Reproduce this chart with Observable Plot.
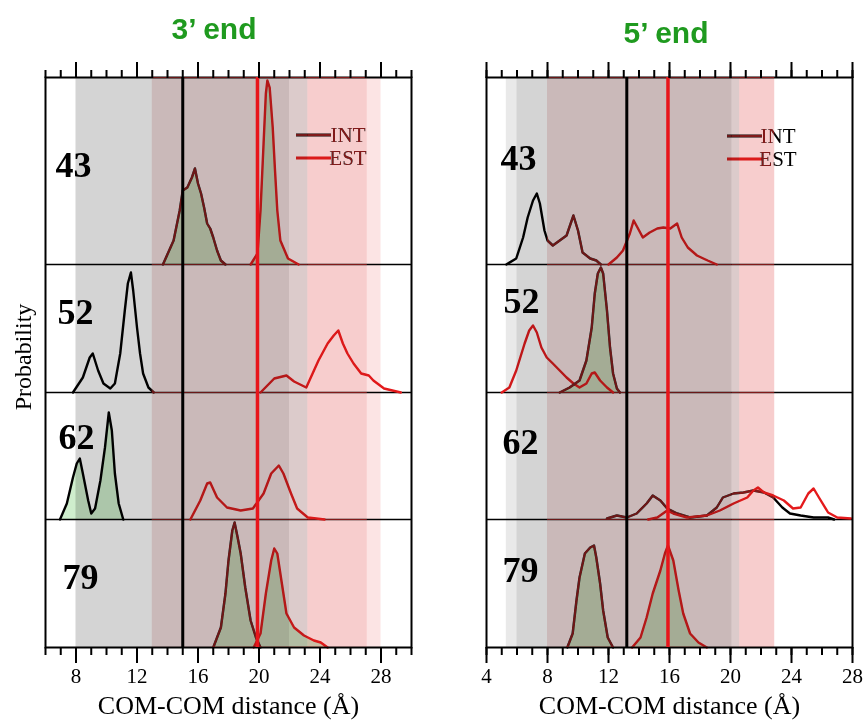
<!DOCTYPE html>
<html><head><meta charset="utf-8">
<script src="https://cdn.jsdelivr.net/npm/d3@7"></script>
<script src="https://cdn.jsdelivr.net/npm/@observablehq/plot@0.6"></script>
<style>
body{margin:0;background:#fff;}
#wrap{position:relative;width:867px;height:726px;overflow:hidden;background:#fff;}
.panel{position:absolute;top:0;}
.title{position:absolute;font-family:"Liberation Sans",Arial,sans-serif;font-weight:bold;font-size:30px;color:#1f9a1f;transform:translate(-50%,-50%);white-space:nowrap;}
.ylab{position:absolute;font-family:"Liberation Serif",serif;font-size:24px;left:23px;top:357px;transform:translate(-50%,-50%) rotate(-90deg);white-space:nowrap;}
</style></head><body>
<div id="wrap">
<div id="p3" class="panel" style="left:0px"></div>
<div id="p5" class="panel" style="left:440px"></div>
<div class="title" style="left:214px;top:29px">3’ end</div>
<div class="title" style="left:666px;top:33px">5’ end</div>
<div class="ylab">Probability</div>
</div>
<script>
// ---------- data ----------
const rowNames = ["43", "52", "62", "79"];
const legendNames = ["INT", "EST"];
const axisTitle = "COM-COM distance (Å)";

// 3' end : [distance (Å), probability (arb. units)]
const end3_43_INT = [[13.7,0],[14.4,24],[14.8,54],[15.0,74],[15.3,77],[15.6,87],[15.8,96],[16.0,81],[16.2,71],[16.4,57],[16.6,41],[16.8,36],[17.0,27],[17.25,14],[17.5,4],[17.8,0]];
const end3_43_EST = [[19.45,0],[19.9,11],[20.1,54],[20.3,121],[20.45,171],[20.55,184],[20.7,177],[20.9,137],[21.05,94],[21.2,54],[21.4,24],[21.9,6],[22.6,0]];
const end3_52_INT = [[7.8,0],[8.45,15],[8.9,35],[9.1,39],[9.45,22],[9.8,9],[10.25,4],[10.55,9],[10.9,39],[11.2,82],[11.4,109],[11.6,120],[11.75,102],[12.0,65],[12.2,39],[12.4,19],[12.75,5],[13.1,0]];
const end3_52_EST = [[20.1,0],[21.0,14],[21.8,17],[22.3,11],[23.1,5],[23.9,32],[24.5,49],[24.9,57],[25.2,62],[25.5,49],[25.8,39],[26.2,29],[26.7,19],[27.2,17],[27.5,12],[28.2,4],[29.3,0]];
const end3_62_INT = [[6.95,0],[7.4,16],[7.8,42],[8.05,56],[8.25,61],[8.45,46],[8.8,19],[9.0,6],[9.25,11],[9.6,39],[9.9,72],[10.15,107],[10.35,89],[10.55,46],[10.8,16],[11.1,0]];
const end3_62_EST = [[15.5,0],[16.15,19],[16.6,36],[16.8,37],[17.25,22],[17.9,12],[18.8,9],[19.6,11],[20.3,26],[20.8,46],[21.3,54],[21.6,46],[22.1,26],[22.5,11],[23.2,2],[24.3,0]];
const end3_79_INT = [[17.0,0],[17.5,20],[17.8,54],[18.0,87],[18.25,117],[18.4,125],[18.6,110],[18.8,94],[19.1,60],[19.45,27],[19.8,10],[20.1,0]];
const end3_79_EST = [[19.65,0],[20.1,14],[20.45,54],[20.8,87],[21.0,99],[21.2,94],[21.5,64],[21.8,34],[22.3,20],[22.95,12],[23.6,7],[24.05,5],[24.5,0]];

// 5' end
const end5_43_INT = [[5.3,0],[5.95,6],[6.4,27],[6.7,47],[7.05,64],[7.3,71],[7.5,61],[7.8,34],[8.0,24],[8.35,19],[8.8,24],[9.25,29],[9.7,49],[10.0,34],[10.3,12],[10.8,6],[11.2,4],[11.5,0]];
const end5_43_EST = [[12.0,0],[12.55,7],[12.95,14],[13.4,31],[13.65,44],[13.9,37],[14.25,27],[14.7,32],[15.2,36],[15.6,37],[16.05,36],[16.5,41],[16.8,27],[17.2,17],[17.8,9],[18.5,4],[19.1,0]];
const end5_52_INT = [[8.8,0],[9.45,5],[10.1,12],[10.55,32],[10.9,65],[11.1,99],[11.3,119],[11.5,125],[11.65,119],[11.9,82],[12.1,45],[12.3,19],[12.55,4],[12.75,0]];
const end5_52_EST = [[5.0,0],[5.5,5],[5.95,22],[6.5,49],[6.8,62],[7.05,67],[7.3,60],[7.6,45],[7.95,35],[8.35,29],[8.8,22],[9.25,15],[9.7,9],[10.1,5],[10.55,9],[10.9,19],[11.1,20],[11.45,12],[11.9,5],[12.3,0]];
const end5_62_INT = [[11.9,1],[12.55,4],[13.2,2],[13.85,6],[14.5,16],[14.9,24],[15.4,19],[15.85,11],[16.5,6],[17.35,2],[18.45,4],[19.1,12],[19.5,22],[20.2,26],[20.85,27],[21.5,29],[22.2,27],[22.8,22],[23.4,12],[23.9,6],[24.6,4],[25.45,2],[26.4,2],[26.8,0]];
const end5_62_EST = [[14.6,0],[15.2,2],[15.85,9],[16.25,6],[17.15,2],[18.45,4],[19.3,9],[20.2,16],[21.1,22],[21.5,29],[21.8,32],[22.2,27],[22.8,24],[23.5,19],[24.1,11],[24.6,12],[25.1,26],[25.45,31],[25.8,22],[26.4,7],[27.0,2],[27.9,1]];
const end5_79_INT = [[9.3,0],[9.65,14],[9.9,47],[10.1,70],[10.45,94],[10.8,100],[11.05,102],[11.2,90],[11.45,64],[11.65,37],[11.95,10],[12.3,0]];
const end5_79_EST = [[13.55,0],[14.1,10],[14.5,30],[14.9,54],[15.4,77],[15.7,94],[15.9,102],[16.25,87],[16.6,57],[16.9,34],[17.35,14],[17.9,5],[18.45,0]];

// shaded ranges [from, to, kind]
const bands3 = [[8,13,"gray"],[13,22,"mauve"],[22,23.2,"lightmauve"],[23.2,27.1,"pink"],[27.1,28,"lightpink"]];
const bands5 = [[5.3,6,"lightgray"],[6,8,"gray"],[8,20.1,"mauve"],[20.1,20.6,"lightmauve"],[20.6,22.9,"pink"]];

// reference distances
const ref3 = {INT: 15, EST: 19.9};
const ref5 = {INT: 13.2, EST: 15.9};

// axis ticks
const majorTicks3 = [8, 12, 16, 20, 24, 28];
const majorTicks5 = [4, 8, 12, 16, 20, 24, 28];
const minorTicks3 = d3.range(6, 31);
const minorTicks5 = d3.range(4, 29);

// ---------- styling / layout ----------
const bandColor = {gray:"#d4d4d4", lightgray:"#e9e9e9", mauve:"#cab9b9", lightmauve:"#dccbcb", pink:"#f7cdcd", lightpink:"#fce4e4"};
const tinted = new Set(["mauve","lightmauve","pink"]);
const lineColor = {INT: "black", EST: "#e41a1c"};
const refColor = {INT: "black", EST: "#e8151b"};
const greenFill = "#cfeecd";
const rowBase = {"43": 383, "52": 255, "62": 128, "79": 0};
const TOP = 570;

const series3 = [
  {row:"43", kind:"INT", data:end3_43_INT, fill:true},
  {row:"43", kind:"EST", data:end3_43_EST, fill:true},
  {row:"52", kind:"INT", data:end3_52_INT, fill:false},
  {row:"52", kind:"EST", data:end3_52_EST, fill:false},
  {row:"62", kind:"INT", data:end3_62_INT, fill:true},
  {row:"62", kind:"EST", data:end3_62_EST, fill:false},
  {row:"79", kind:"INT", data:end3_79_INT, fill:true},
  {row:"79", kind:"EST", data:end3_79_EST, fill:true}
];
const series5 = [
  {row:"43", kind:"INT", data:end5_43_INT, fill:false},
  {row:"43", kind:"EST", data:end5_43_EST, fill:false},
  {row:"52", kind:"EST", data:end5_52_EST, fill:false},
  {row:"52", kind:"INT", data:end5_52_INT, fill:true},
  {row:"62", kind:"INT", data:end5_62_INT, fill:false},
  {row:"62", kind:"EST", data:end5_62_EST, fill:false},
  {row:"79", kind:"INT", data:end5_79_INT, fill:true},
  {row:"79", kind:"EST", data:end5_79_EST, fill:true}
];

function makePanel(cfg) {
  const {domain, bands, ref, series, major, minor, width, marginLeft, marginRight, labelPos, legendPos} = cfg;
  const fills = series.filter(s => s.fill).map(s =>
    Plot.area(s.data, {x1: d => d[0], y1: () => rowBase[s.row], y2: d => rowBase[s.row] + d[1], fill: greenFill}));
  const lines = series.map(s =>
    Plot.line(s.data, {x: d => d[0], y: d => rowBase[s.row] + d[1], stroke: lineColor[s.kind], strokeWidth: 2.4}));
  const labels = rowNames.map((r, i) =>
    Plot.text([r], {frameAnchor: "left", y: () => rowBase[r] + labelPos[i][1], dx: labelPos[i][0],
      textAnchor: "start", fontSize: 36, fontWeight: "bold", fill: "black"}));
  const legend = (index, scales, values, dim) => {
    const g = d3.create("svg:g");
    legendNames.forEach((name, i) => {
      const y = legendPos.y[i];
      g.append("line").attr("x1", legendPos.x).attr("x2", legendPos.x + 35).attr("y1", y).attr("y2", y)
        .attr("stroke", lineColor[name]).attr("stroke-width", 2.8);
      g.append("text").attr("x", legendPos.tx).attr("y", y).attr("dy", "0.34em")
        .attr("font-size", 21).attr("fill", "black").text(name);
    });
    return g.node();
  };
  return Plot.plot({
    width, height: 726,
    marginLeft, marginRight, marginTop: 77, marginBottom: 79,
    style: {background: "transparent", fontFamily: "'Liberation Serif', 'Times New Roman', serif", overflow: "visible"},
    x: {domain, axis: null},
    y: {domain: [0, TOP], axis: null},
    color: {type: "identity"},
    marks: [
      Plot.frame({fill: "white"}),
      ...fills,
      Plot.ruleY([rowBase["62"], rowBase["52"], rowBase["43"]], {stroke: "black", strokeWidth: 1.3}),
      ...lines,
      ...labels,
      legend,
      Plot.frame({stroke: "black", strokeWidth: 2}),
      Plot.rect(bands.filter(b => tinted.has(b[2])), {x1: d => d[0], x2: d => d[1], fill: "#862020", mixBlendMode: "lighten"}),
      Plot.rect(bands, {x1: d => d[0], x2: d => d[1], fill: d => bandColor[d[2]], mixBlendMode: "multiply"}),
      Plot.ruleX([ref.INT], {stroke: refColor.INT, strokeWidth: 3}),
      Plot.ruleX([ref.EST], {stroke: refColor.EST, strokeWidth: 3.5}),
      Plot.axisX({anchor: "bottom", ticks: minor, tickSize: 8, tickFormat: () => "", strokeWidth: 2, label: null}),
      Plot.axisX({anchor: "bottom", ticks: major, tickSize: 16, tickPadding: 5, fontSize: 21, strokeWidth: 2, label: null, fill: "black"}),
      Plot.axisX({anchor: "top", ticks: minor, tickSize: 8, tickFormat: () => "", strokeWidth: 2, label: null}),
      Plot.axisX({anchor: "top", ticks: major, tickSize: 16, tickFormat: () => "", strokeWidth: 2, label: null}),
      Plot.text([axisTitle], {frameAnchor: "bottom", dy: 66, fontSize: 26, fill: "black"})
    ]
  });
}

document.getElementById("p3").appendChild(makePanel({
  domain: [6, 30], bands: bands3, ref: ref3, series: series3, major: majorTicks3, minor: minorTicks3,
  width: 430, marginLeft: 45, marginRight: 19,
  labelPos: [[10, 99], [12, 80], [13, 82], [17, 70]],
  legendPos: {x: 296, tx: 348, y: [135, 158]}
}));
document.getElementById("p5").appendChild(makePanel({
  domain: [4, 28], bands: bands5, ref: ref5, series: series5, major: majorTicks5, minor: minorTicks5,
  width: 427, marginLeft: 46, marginRight: 15,
  labelPos: [[14, 106], [17, 91], [16, 77], [16, 77]],
  legendPos: {x: 287, tx: 338, y: [136, 159]}
}));
</script>
</body></html>
